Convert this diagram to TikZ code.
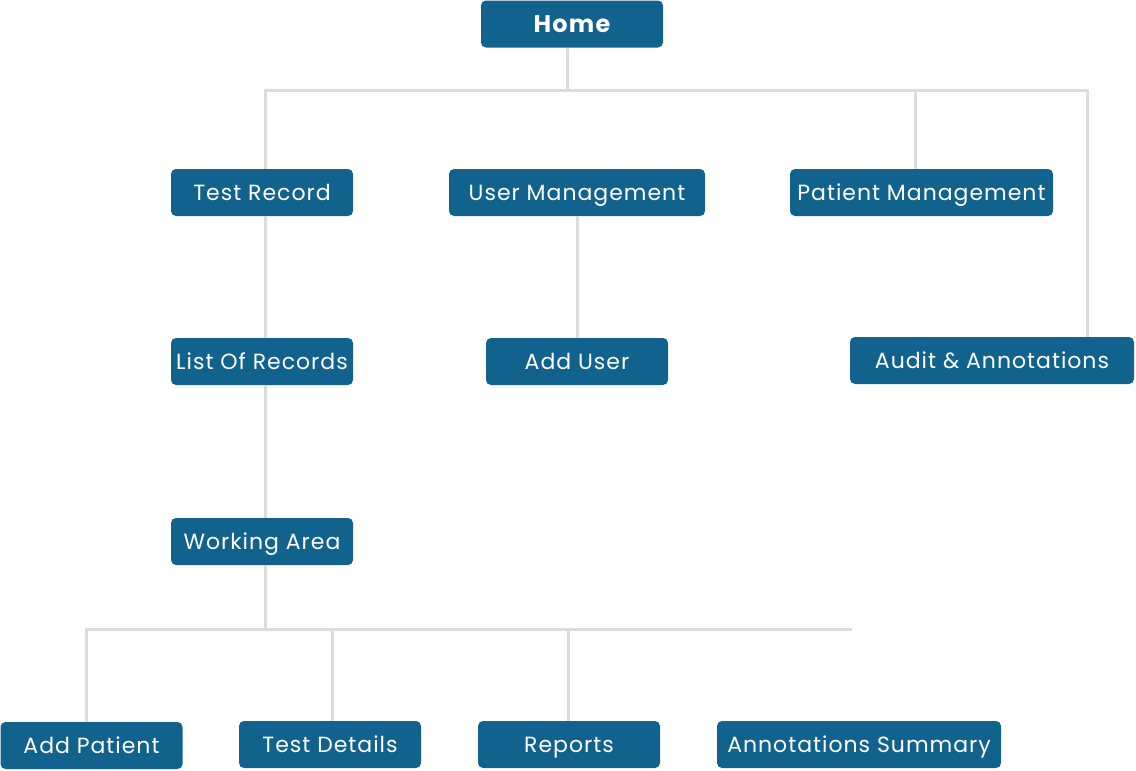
\documentclass[tikz,border=0pt]{standalone}
\usepackage{fontspec}
\setmainfont{Poppins}
\usetikzlibrary{positioning}
\definecolor{boxblue}{HTML}{11628D}
\definecolor{linegray}{HTML}{DCDCDC}
\tikzset{
  pagebox/.style={fill=boxblue, text=white, rounded corners=5pt, inner sep=0pt,
    minimum height=47pt, text height=15.4pt, text depth=0pt,
    font=\fontsize{22}{26}\selectfont\addfontfeature{LetterSpace=4.5}},
  link/.style={draw=linegray, line width=3pt}
}
\begin{document}
\begin{tikzpicture}[x=1pt,y=-1pt]
  \useasboundingbox (0,0) rectangle (1136,771);
  %Pages
  \node[pagebox, minimum width=182pt, text height=17pt,
    font=\fontsize{24}{28}\selectfont\bfseries\addfontfeature{LetterSpace=5}] (home) at (572,24) {Home};
  \node[pagebox, minimum width=182pt] (testrec) at (262,192.5) {Test Record};
  \node[pagebox, minimum width=256pt] (usermgmt) at (577,192.5) {User Management};
  \node[pagebox, minimum width=263pt] (patmgmt) at (921.5,192.5) {Patient Management};
  \node[pagebox, minimum width=182pt] (records) at (262,361.5) {List Of Records};
  \node[pagebox, minimum width=182pt] (adduser) at (577,361.5) {Add User};
  \node[pagebox, minimum width=284pt] (audit) at (992,360.5) {Audit \& Annotations};
  \node[pagebox, minimum width=182pt] (workarea) at (262,541.5) {Working Area};
  \node[pagebox, minimum width=182pt] (addpat) at (91.5,745.5) {Add Patient};
  \node[pagebox, minimum width=182pt] (details) at (330,744.5) {Test Details};
  \node[pagebox, minimum width=182pt] (reports) at (569,744.5) {Reports};
  \node[pagebox, minimum width=284pt] (summary) at (859,744.5) {Annotations Summary};
  %Branch points
  \coordinate (homebar) at (567,90);
  \coordinate (leftbar) at (265,90);
  \coordinate (patbar) at (915,90);
  \coordinate (rightbar) at (1087,90);
  \coordinate (workbar) at (265,629);
  \coordinate (addbar) at (86,629);
  \coordinate (detailbar) at (332,629);
  \coordinate (reportbar) at (568,629);
  \coordinate (barend) at (852,629);
  %Top tree
  \draw[link] (homebar |- home.south) -- (homebar);
  \draw[link] (leftbar -| 263.5,0) -- (rightbar -| 1088.5,0);
  \draw[link] (leftbar) -- (leftbar |- testrec.north);
  \draw[link] (patbar) -- (patbar |- patmgmt.north);
  \draw[link] (rightbar) -- (rightbar |- audit.north);
  %Down the columns
  \draw[link] (leftbar |- testrec.south) -- (leftbar |- records.north);
  \draw[link] (leftbar |- records.south) -- (leftbar |- workarea.north);
  \draw[link] (usermgmt.south) -- (adduser.north);
  \draw[link] (leftbar |- workarea.south) -- (workbar);
  %Bottom tree
  \draw[link] (addbar -| 84.5,0) -- (barend);
  \draw[link] (addbar) -- (addbar |- addpat.north);
  \draw[link] (detailbar) -- (detailbar |- details.north);
  \draw[link] (reportbar) -- (reportbar |- reports.north);
\end{tikzpicture}
\end{document}
